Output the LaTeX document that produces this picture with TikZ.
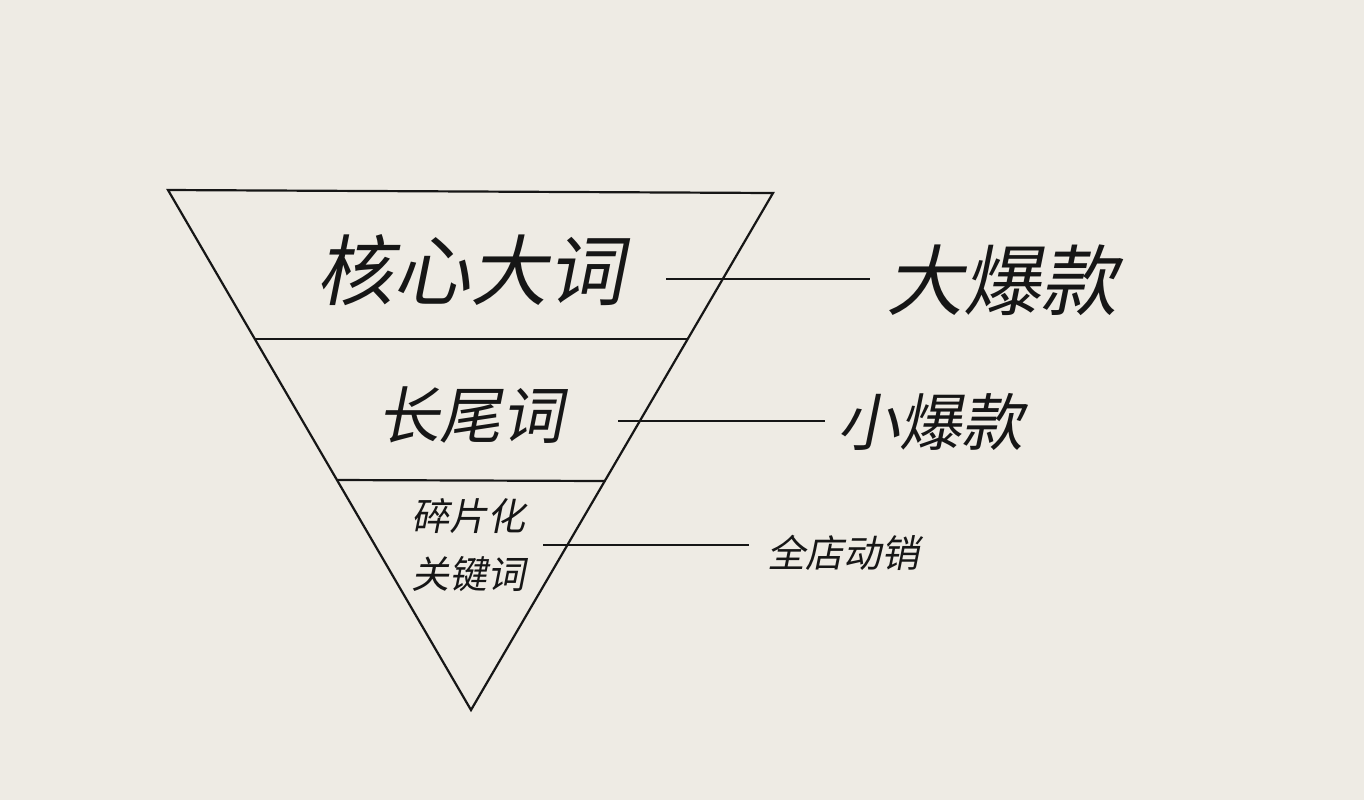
\documentclass[tikz,border=0pt]{standalone}
\usepackage{fontspec}
\setmainfont{Noto Sans CJK SC}[FakeSlant=0.2]
\definecolor{paper}{HTML}{EEEBE4}
\definecolor{ink}{HTML}{161616}
\begin{document}
\begin{tikzpicture}[x=0.5pt, y=-0.5pt,
    edge/.style={draw=ink, line width=1.1pt},
    bigword/.style={text=ink, inner sep=0pt, font=\fontsize{38.5pt}{39pt}\selectfont},
    midword/.style={text=ink, inner sep=0pt, font=\fontsize{31pt}{31pt}\selectfont},
    smallword/.style={text=ink, inner sep=0pt, font=\fontsize{19pt}{19pt}\selectfont}]
    % the paper
    \fill[paper] (0,0) rectangle (1364,800);
    \useasboundingbox (0,0) rectangle (1364,800);
    % the corners of the funnel and the ends of the two dividers
    \coordinate (tl) at (168,190);
    \coordinate (tr) at (773,193);
    \coordinate (bot) at (471,710);
    \coordinate (d1l) at (255,339);
    \coordinate (d1r) at (688,339);
    \coordinate (d2l) at (337,480);
    \coordinate (d2r) at (605,481);
    % draw the funnel
    \draw[edge, line join=miter] (tl) -- (tr) -- (bot) -- cycle;
    \draw[edge] (d1l) -- (d1r);
    \draw[edge] (d2l) -- (d2r);
    % the texts inside
    \node[bigword] (core) at (470,270) {核心大词};
    \node[midword] (tail) at (470,415) {长尾词};
    \node[smallword] (frag) at (468,516) {碎片化};
    \node[smallword] (keys) at (468,574) {关键词};
    % the texts on the right
    \node[bigword] (hit) at (1002,280) {大爆款};
    \node[midword] (minor) at (930,422) {小爆款};
    \node[smallword] (store) at (843,553) {全店动销};
    % where the connectors start
    \coordinate (s1) at (666,279);
    \coordinate (s2) at (618,421);
    \coordinate (s3) at (543,545);
    % draw the connectors
    \draw[edge] (s1) -- ([xshift=-8pt]hit.west |- s1);
    \draw[edge] (s2) -- ([xshift=-6pt]minor.west |- s2);
    \draw[edge] (s3) -- ([xshift=-9pt]store.west |- s3);
\end{tikzpicture}
\end{document}
